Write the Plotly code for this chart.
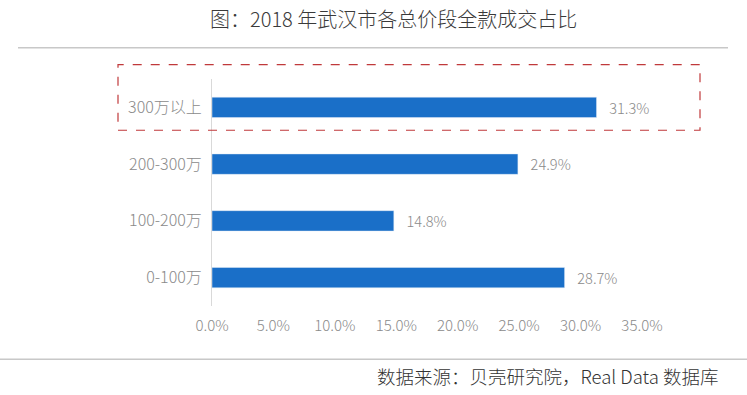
import plotly.graph_objects as go

categories = ["0-100万", "100-200万", "200-300万", "300万以上"]
values = [28.7, 14.8, 24.9, 31.3]
labels = ["28.7%", "14.8%", "24.9%", "31.3%"]
tick_vals = [0, 5, 10, 15, 20, 25, 30, 35]
tick_text = ["0.0%", "5.0%", "10.0%", "15.0%", "20.0%", "25.0%", "30.0%", "35.0%"]

W, H = 747, 395
L, R, T, B = 212, 105, 78.5, 88.5
pw, ph = W - L - R, H - T - B

def px(x):
    return (x - L) / pw

def py(y):
    return (H - B - y) / ph

font = "Noto Sans CJK SC, Noto Sans, sans-serif"
gray = "#8a8a8a"

fig = go.Figure(go.Bar(
    x=values, y=categories, orientation="h",
    marker=dict(color="#1a6fc8"),
    width=0.36,
    text=labels, texttemplate="\u00a0\u00a0\u00a0%{text}", textposition="outside",
    textfont=dict(color=gray, size=15, family=font, weight=300),
    cliponaxis=False,
))

fig.update_layout(
    width=W, height=H,
    margin=dict(l=L, r=R, t=T, b=B),
    paper_bgcolor="white", plot_bgcolor="white",
    showlegend=False,
    font=dict(family=font),
    xaxis=dict(range=[0, 35], tickvals=tick_vals, ticktext=tick_text,
               showgrid=False, zeroline=False, showline=False,
               tickfont=dict(color=gray, size=15, family=font, weight=300), ticks="",
               ticklabelstandoff=9, fixedrange=True),
    yaxis=dict(showgrid=False, zeroline=False, showline=True, linecolor="#d9d9d9",
               linewidth=1, ticks="", ticklabelstandoff=6,
               tickfont=dict(color=gray, size=16, family=font, weight=300),
               range=[-0.5, 3.5]),
    shapes=[
        dict(type="line", xref="paper", yref="paper", x0=px(18), x1=px(728), y0=py(47), y1=py(47),
             line=dict(color="#c8c8c8", width=1.5)),
        dict(type="line", xref="paper", yref="paper", x0=px(0), x1=px(747), y0=py(360), y1=py(360),
             line=dict(color="#c8c8c8", width=1.5)),
        dict(type="rect", xref="paper", yref="paper", x0=px(118), x1=px(700), y0=py(130), y1=py(64),
             line=dict(color="#c0393b", width=1.2, dash="dash")),
    ],
    annotations=[
        dict(text="图：2018 年武汉市各总价段全款成交占比", xref="paper", yref="paper",
             x=px(393), y=py(18), xanchor="center", yanchor="middle", showarrow=False,
             font=dict(size=20, color="#3a3a3a", family=font, weight=300)),
        dict(text="数据来源：贝壳研究院，Real Data 数据库", xref="paper", yref="paper",
             x=px(720), y=py(377), xanchor="right", yanchor="middle", showarrow=False,
             font=dict(size=18.5, color="#333333", family=font, weight=300)),
    ],
)

fig.write_html("out.html", config={"displayModeBar": False},
               post_script="document.body.style.margin='0';")
